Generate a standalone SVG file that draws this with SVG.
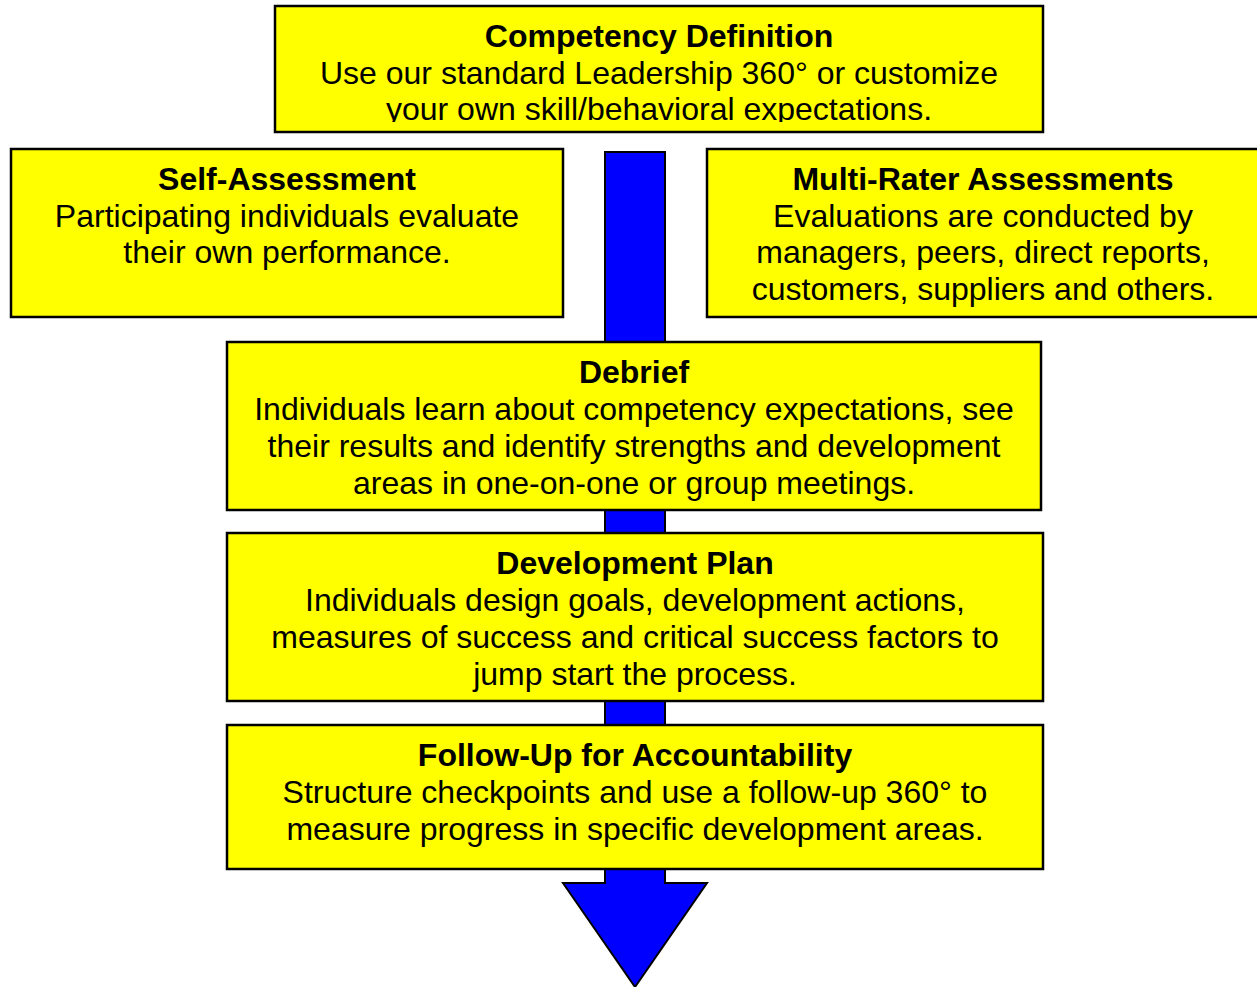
<svg xmlns="http://www.w3.org/2000/svg" width="1257" height="987" viewBox="0 0 1257 987">
<style>
.box{fill:#ffff00;stroke:#000;stroke-width:2.5}
.t{font-family:"Liberation Sans",Arial,sans-serif;font-size:32px;fill:#000;text-anchor:middle}
.b{font-weight:bold}
.arrow{fill:#0000ff;stroke:#000;stroke-width:2}
</style>
<defs><clipPath id="c1"><rect x="275" y="6" width="768" height="116"/></clipPath></defs>
<rect width="1257" height="987" fill="#fff"/>
<g id="connectors">
<path class="arrow" d="M605,152 L665,152 L665,883 L707,883 L635,987 L563,883 L605,883 Z"/>
</g>
<g id="competency">
<rect class="box" x="275" y="6" width="768" height="126"/>
<g clip-path="url(#c1)">
<text class="t b" x="659" y="47">Competency Definition</text>
<text class="t" x="659" y="84">Use our standard Leadership 360° or customize</text>
<text class="t" x="659" y="120">your own skill/behavioral expectations.</text>
</g>
</g>
<g id="self">
<rect class="box" x="11" y="149" width="552" height="168"/>
<text class="t b" x="287" y="190">Self-Assessment</text>
<text class="t" x="287" y="227">Participating individuals evaluate</text>
<text class="t" x="287" y="263">their own performance.</text>
</g>
<g id="multi">
<rect class="box" x="707" y="149" width="552" height="168"/>
<text class="t b" x="983" y="190">Multi-Rater Assessments</text>
<text class="t" x="983" y="227">Evaluations are conducted by</text>
<text class="t" x="983" y="263">managers, peers, direct reports,</text>
<text class="t" x="983" y="300">customers, suppliers and others.</text>
</g>
<g id="debrief">
<rect class="box" x="227" y="342" width="814" height="168"/>
<text class="t b" x="634" y="383">Debrief</text>
<text class="t" x="634" y="420">Individuals learn about competency expectations, see</text>
<text class="t" x="634" y="457">their results and identify strengths and development</text>
<text class="t" x="634" y="494">areas in one-on-one or group meetings.</text>
</g>
<g id="devplan">
<rect class="box" x="227" y="533" width="816" height="168"/>
<text class="t b" x="635" y="574">Development Plan</text>
<text class="t" x="635" y="611">Individuals design goals, development actions,</text>
<text class="t" x="635" y="648">measures of success and critical success factors to</text>
<text class="t" x="635" y="685">jump start the process.</text>
</g>
<g id="followup">
<rect class="box" x="227" y="725" width="816" height="144"/>
<text class="t b" x="635" y="766">Follow-Up for Accountability</text>
<text class="t" x="635" y="803">Structure checkpoints and use a follow-up 360° to</text>
<text class="t" x="635" y="840">measure progress in specific development areas.</text>
</g>
</svg>
